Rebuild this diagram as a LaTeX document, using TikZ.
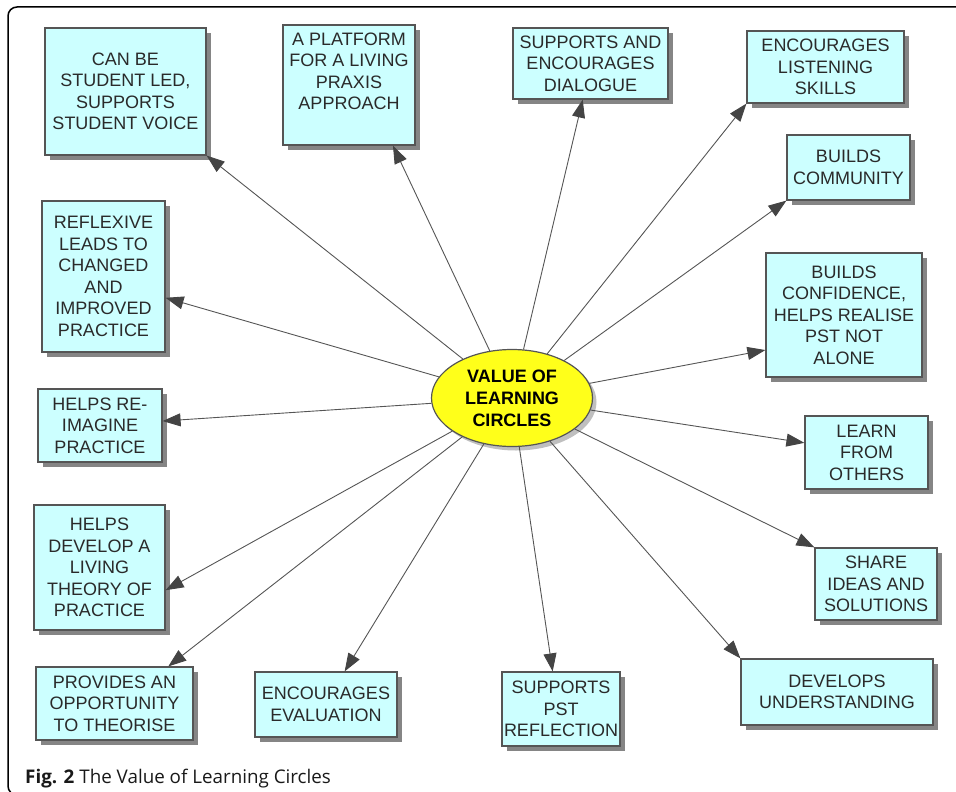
\documentclass[tikz,border=0pt]{standalone}
\usepackage{fontspec}
\setmainfont{Liberation Sans}
\newfontfamily\capfont{Open Sans}
\usetikzlibrary{shapes.geometric,shadows,arrows.meta,calc}
\definecolor{boxfill}{HTML}{CCFFFF}
\definecolor{boxline}{HTML}{555555}
\definecolor{shadowgray}{HTML}{858585}
\definecolor{txtgray}{HTML}{2A2A2A}
\definecolor{ellfill}{HTML}{FFFF1A}
\definecolor{arrline}{HTML}{555555}
\definecolor{arrtip}{HTML}{444444}
\tikzset{
  infobox/.style={draw=boxline, line width=1.2pt, fill=boxfill, inner sep=0pt,
    align=center, text=txtgray, font=\fontsize{18}{21.5}\selectfont,
    drop shadow={shadow xshift=5pt, shadow yshift=-5pt, fill=shadowgray, opacity=1}},
  centre/.style={ellipse, draw=boxline, line width=1.2pt, fill=ellfill, inner sep=0pt,
    minimum width=161pt, minimum height=97pt, align=center,
    font=\bfseries\fontsize{18}{22}\selectfont, text=black,
    drop shadow={shadow xshift=4pt, shadow yshift=-4pt, fill=black!25, opacity=1}},
  arr/.style={draw=arrline, line width=0.9pt,
    -{Triangle[length=18pt,width=13pt,fill=arrtip,color=arrtip]}},
}
\begin{document}
\begin{tikzpicture}[x=1pt,y=-1pt]
\useasboundingbox (0,0) rectangle (956,792);
\begin{scope}
\clip (0,0) rectangle (956,792);
\draw[line width=1.5pt, rounded corners=9pt] (980,7) -- (8,7) -- (8,795) -- (980,795);
\end{scope}

\node[centre] (c) at (512,398) {VALUE OF\\LEARNING\\CIRCLES};

\node[infobox, minimum width=161pt, minimum height=127pt] (b1) at (125.5,91.5) {CAN BE\\STUDENT LED,\\SUPPORTS\\STUDENT VOICE};
\node[infobox, minimum width=132pt, minimum height=120pt] (b2) at (349,85) {A PLATFORM\\FOR A LIVING\\PRAXIS\\APPROACH\\\strut};
\node[infobox, minimum width=155pt, minimum height=71pt] (b3) at (590.5,63.5) {SUPPORTS AND\\ENCOURAGES\\DIALOGUE};
\node[infobox, minimum width=157pt, minimum height=72pt] (b4) at (825.5,67) {ENCOURAGES\\LISTENING\\SKILLS};
\node[infobox, minimum width=123pt, minimum height=65pt] (b5) at (848.5,167.5) {BUILDS\\COMMUNITY};
\node[infobox, minimum width=156pt, minimum height=124pt] (b6) at (844,315) {BUILDS\\CONFIDENCE,\\HELPS REALISE\\PST NOT\\ALONE};
\node[infobox, minimum width=123pt, minimum height=73pt] (b7) at (866.5,452.5) {LEARN\\FROM\\OTHERS};
\node[infobox, minimum width=122pt, minimum height=72pt] (b8) at (876,584) {SHARE\\IDEAS AND\\SOLUTIONS};
\node[infobox, minimum width=192pt, minimum height=66pt] (b9) at (837,692) {DEVELOPS\\UNDERSTANDING};
\node[infobox, minimum width=118pt, minimum height=74pt] (b10) at (561,709) {SUPPORTS\\PST\\REFLECTION};
\node[infobox, minimum width=142pt, minimum height=65pt] (b11) at (326,704.5) {ENCOURAGES\\EVALUATION};
\node[infobox, minimum width=157pt, minimum height=73pt] (b12) at (114.5,703.5) {PROVIDES AN\\OPPORTUNITY\\TO THEORISE};
\node[infobox, minimum width=131pt, minimum height=125pt] (b13) at (99.5,567.5) {HELPS\\DEVELOP A\\LIVING\\THEORY OF\\PRACTICE};
\node[infobox, minimum width=124pt, minimum height=73pt] (b14) at (100,425.5) {HELPS RE-\\IMAGINE\\PRACTICE};
\node[infobox, minimum width=123pt, minimum height=151pt] (b15) at (103.5,276.5) {REFLEXIVE\\LEADS TO\\CHANGED\\AND\\IMPROVED\\PRACTICE};

\draw[arr] (c) -- (b1.south east);
\draw[arr] (c) -- ($(b2.south west)!0.83!(b2.south east)$);
\draw[arr] (c) -- ($(b3.south west)!0.45!(b3.south east)$);
\draw[arr] (c) -- (b4.south west);
\draw[arr] (c) -- (b5.south west);
\draw[arr] (c) -- ($(b6.north west)!0.78!(b6.south west)$);
\draw[arr] (c) -- ($(b7.north west)!0.37!(b7.south west)$);
\draw[arr] (c) -- (b8.north west);
\draw[arr] (c) -- (b9.north west);
\draw[arr] (c) -- ($(b10.north west)!0.43!(b10.north east)$);
\draw[arr] (c) -- ($(b11.north west)!0.63!(b11.north east)$);
\draw[arr] (c) -- ($(b12.north west)!0.84!(b12.north east)$);
\draw[arr] (c) -- ($(b13.north east)!0.68!(b13.south east)$);
\draw[arr] (c) -- ($(b14.north east)!0.44!(b14.south east)$);
\draw[arr] (c) -- ($(b15.north east)!0.64!(b15.south east)$);

\node[anchor=base west, inner sep=0pt, text=black!90, font=\capfont\fontsize{18.8}{22}\selectfont] (cap) at (25,783) {\textbf{Fig. 2} The Value of Learning Circles};
\end{tikzpicture}
\end{document}
